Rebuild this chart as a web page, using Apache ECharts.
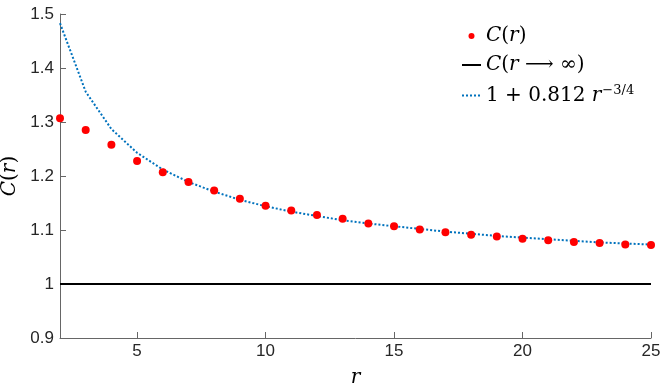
<!DOCTYPE html>
<html>
<head>
<meta charset="utf-8">
<script src="https://cdn.jsdelivr.net/npm/echarts@6/dist/echarts.min.js"></script>
<style>html,body{margin:0;padding:0;background:#fff}#c{width:665px;height:385px}</style>
</head>
<body>
<div id="c"></div>
<script>
var rValues = [2,3,4,5,6,7,8,9,10,11,12,13,14,15,16,17,18,19,20,21,22,23,24,25];
var cValues = [1.307,1.285,1.258,1.228,1.207,1.189,1.173,1.158,1.145,1.136,1.128,1.121,1.112,1.107,1.101,1.096,1.091,1.088,1.084,1.081,1.078,1.076,1.073,1.072];
var fitValues = [1.483,1.356,1.287,1.243,1.212,1.189,1.171,1.156,1.144,1.134,1.126,1.118,1.112,1.107,1.102,1.097,1.093,1.089,1.086,1.083,1.080,1.077,1.075,1.073];
var limitX = [2,25];
var limitY = [1,1];
var xTicks = [5,10,15,20,25];

var serif = '"DejaVu Serif", "Liberation Serif", serif';
var sans = '"Liberation Sans", Arial, sans-serif';
var richMath = {
  i: {fontFamily: serif, fontStyle: 'italic', fontSize: 20, color: '#000'},
  n: {fontFamily: serif, fontSize: 20, color: '#000'},
  s: {fontFamily: serif, fontSize: 13, color: '#000', verticalAlign: 'top', padding: [0,0,10,1]}
};
var legendLabels = {
  'C(r)': '{i|C}{n|(}{i|r}{n| ⟶ ∞)}',
  'C(r → ∞)': '{i|C}{n|(}{i|r}{n| ⟶ ∞)}',
  'fit': '{n|1 + 0.812 }{i|r}{s|−3/4}'
};
legendLabels['C(r)'] = '{i|C}{n|(}{i|r}{n|)}';

var chart = echarts.init(document.getElementById('c'), null, {renderer: 'canvas'});
chart.setOption({
  animation: false,
  backgroundColor: '#fff',
  grid: {left: 60, right: 14, top: 14, bottom: 47, containLabel: false, outerBoundsMode: 'none'},
  xAxis: {
    type: 'value', min: 2, max: 25,
    name: '{i|r}', nameLocation: 'middle', nameGap: 30,
    nameTextStyle: {rich: {i: {fontFamily: serif, fontStyle: 'italic', fontSize: 20, color: '#000'}}},
    axisLine: {show: true, lineStyle: {color: '#666', width: 1}},
    axisTick: {show: true, inside: true, length: 6, lineStyle: {color: '#666'}, customValues: xTicks},
    axisLabel: {color: '#262626', fontFamily: sans, fontSize: 17, margin: 5, customValues: xTicks},
    splitLine: {show: false}
  },
  yAxis: {
    type: 'value', min: 0.9, max: 1.5, interval: 0.1,
    name: '{i|C}{n|(}{i|r}{n|)}', nameLocation: 'middle', nameGap: 36, nameRotate: 90,
    nameTextStyle: {rich: {i: {fontFamily: serif, fontStyle: 'italic', fontSize: 20, color: '#000'}, n: {fontFamily: serif, fontSize: 20, color: '#000'}}},
    axisLine: {show: true, lineStyle: {color: '#666', width: 1}},
    axisTick: {show: true, inside: true, length: 6, lineStyle: {color: '#666'}},
    axisLabel: {color: '#262626', fontFamily: sans, fontSize: 17, margin: 6,
      formatter: function (v) { var r = Math.round(v * 10) / 10; return r === 1 ? '1' : r.toFixed(1); }},
    splitLine: {show: false}
  },
  legend: {
    orient: 'vertical', left: 456, top: 21, itemGap: 9, itemWidth: 19, itemHeight: 6,
    data: [
      {name: 'C(r)', icon: 'circle'},
      {name: 'C(r → ∞)', itemStyle: {opacity: 0}},
      {name: 'fit', itemStyle: {opacity: 0}}
    ],
    formatter: function (name) { return legendLabels[name]; },
    textStyle: {rich: richMath}
  },
  series: [
    {
      name: 'fit', type: 'line', symbol: 'none', z: 2,
      data: rValues.map(function (r, i) { return [r, fitValues[i]]; }),
      lineStyle: {color: '#0072BD', width: 2, type: [2, 2]},
      itemStyle: {color: '#0072BD'}
    },
    {
      name: 'C(r → ∞)', type: 'line', symbol: 'none', z: 2,
      data: limitX.map(function (x, i) { return [x, limitY[i]]; }),
      lineStyle: {color: '#000', width: 2},
      itemStyle: {color: '#000'}
    },
    {
      name: 'C(r)', type: 'scatter', symbol: 'circle', symbolSize: 8, z: 3,
      data: rValues.map(function (r, i) { return [r, cValues[i]]; }),
      itemStyle: {color: '#ff0000', opacity: 1}
    }
  ]
});
</script>
</body>
</html>
